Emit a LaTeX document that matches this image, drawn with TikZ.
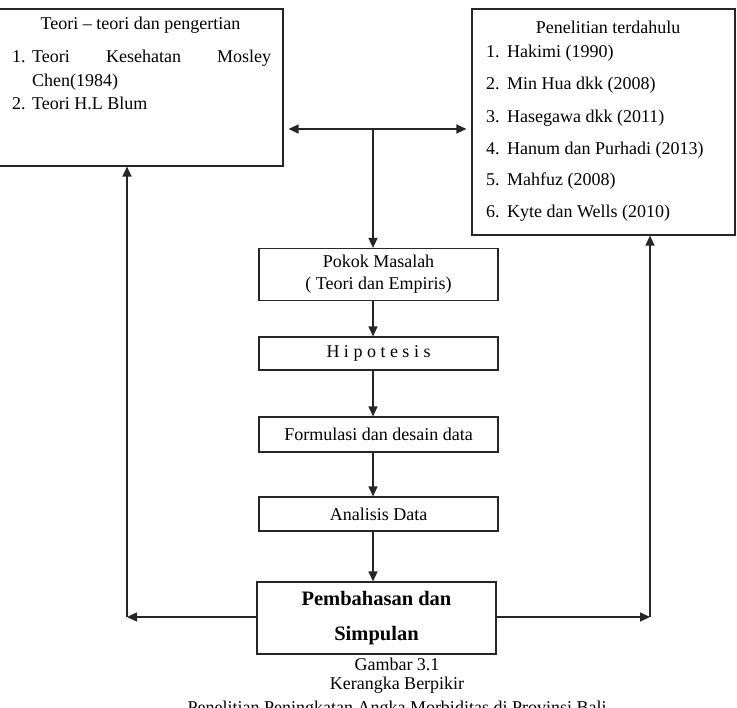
\documentclass[tikz,border=0pt]{standalone}
\usepackage{fontspec}
\setmainfont{Liberation Serif}
\usepackage{tikz}
\usetikzlibrary{arrows.meta}
\tikzset{
  font={\fontsize{18pt}{23.5pt}\selectfont}}

\begin{document}
\begin{tikzpicture}[x=1pt,y=-1pt,
  frame/.style={draw=black!85,line width=1.2pt,inner sep=0pt},
  lbl/.style={inner sep=0pt},
  arr/.style={draw=black!85,line width=1.3pt,-{Triangle[length=10pt,width=9pt]}}]
\useasboundingbox (0,0) rectangle (737,708);
% kotak atas
\node [frame,minimum width=285,minimum height=157] (teori) at (140.5,87.5) {};
\node [frame,minimum width=263,minimum height=226] (riset) at (603.5,122) {};
\node [lbl] (teorijudul) at (140.5,25) {Teori -- teori dan pengertian};
\node [lbl,anchor=base west] (tn1) at (12,63) {1.};
\node [lbl,anchor=base west] (tt1) at (32,63) {\makebox[239pt][s]{Teori Kesehatan Mosley}};
\node [lbl,anchor=base west] (tt1b) at (32,87) {Chen(1984)};
\node [lbl,anchor=base west] (tn2) at (12,110) {2.};
\node [lbl,anchor=base west] (tt2) at (32,110) {Teori H.L Blum};
\node [lbl] (risetjudul) at (608,27.5) {Penelitian terdahulu};
\foreach \n/\yy/\txt in {1/58/Hakimi (1990),2/90/Min Hua dkk (2008),3/123/Hasegawa dkk (2011),
    4/155/Hanum dan Purhadi (2013),5/186/Mahfuz (2008),6/218/Kyte dan Wells (2010)}{
  \node [lbl,anchor=base west] (rn\n) at (486,\yy) {\n.};
  \node [lbl,anchor=base west] (rt\n) at (507,\yy) {\txt};
}
% alur tengah
\node [frame,minimum width=239,minimum height=52,align=center,
  font={\fontsize{18pt}{22pt}\selectfont}] (pokok) at (378.5,274.5)
  {Pokok Masalah\\( Teori dan Empiris)};
\node [frame,minimum width=239,minimum height=33] (hipo) at (378.5,353.5) {H i p o t e s i s};
\node [frame,minimum width=239,minimum height=35] (formulasi) at (378.5,434.5) {Formulasi dan desain data};
\node [frame,minimum width=239,minimum height=34] (analisis) at (378.5,514) {Analisis Data};
\node [frame,minimum width=239,minimum height=72,align=center,
  font={\fontsize{20.5pt}{35pt}\selectfont\bfseries}] (pemb) at (376.5,618)
  {Pembahasan dan\\Simpulan};
\coordinate (hub) at (373,129);
\coordinate (spine) at (373,0);
\coordinate (lc) at (127,617);
\coordinate (rc) at (650,617);
\draw [arr,shorten >=5pt] (hub) -- (teori.east |- hub);
\draw [arr,shorten >=5pt] (hub) -- (riset.west |- hub);
\draw [arr] (hub) -- (pokok.north -| hub);
\draw [arr] (pokok.south -| spine) -- (hipo.north -| spine);
\draw [arr] (hipo.south -| spine) -- (formulasi.north -| spine);
\draw [arr] (formulasi.south -| spine) -- (analisis.north -| spine);
\draw [arr] (analisis.south -| spine) -- (pemb.north -| spine);
\draw [arr] (pemb.west |- lc) -- (lc);
\draw [arr] (lc) -- (teori.south -| lc);
\draw [arr] (pemb.east |- rc) -- (rc);
\draw [arr] (rc) -- (riset.south -| rc);
% keterangan gambar
\node [lbl] (cap1) at (397,664) {Gambar 3.1};
\node [lbl] (cap2) at (397,685) {Kerangka Berpikir};
\node [lbl] (cap3) at (397,709) {Penelitian Peningkatan Angka Morbiditas di Provinsi Bali};
\end{tikzpicture}
\end{document}
